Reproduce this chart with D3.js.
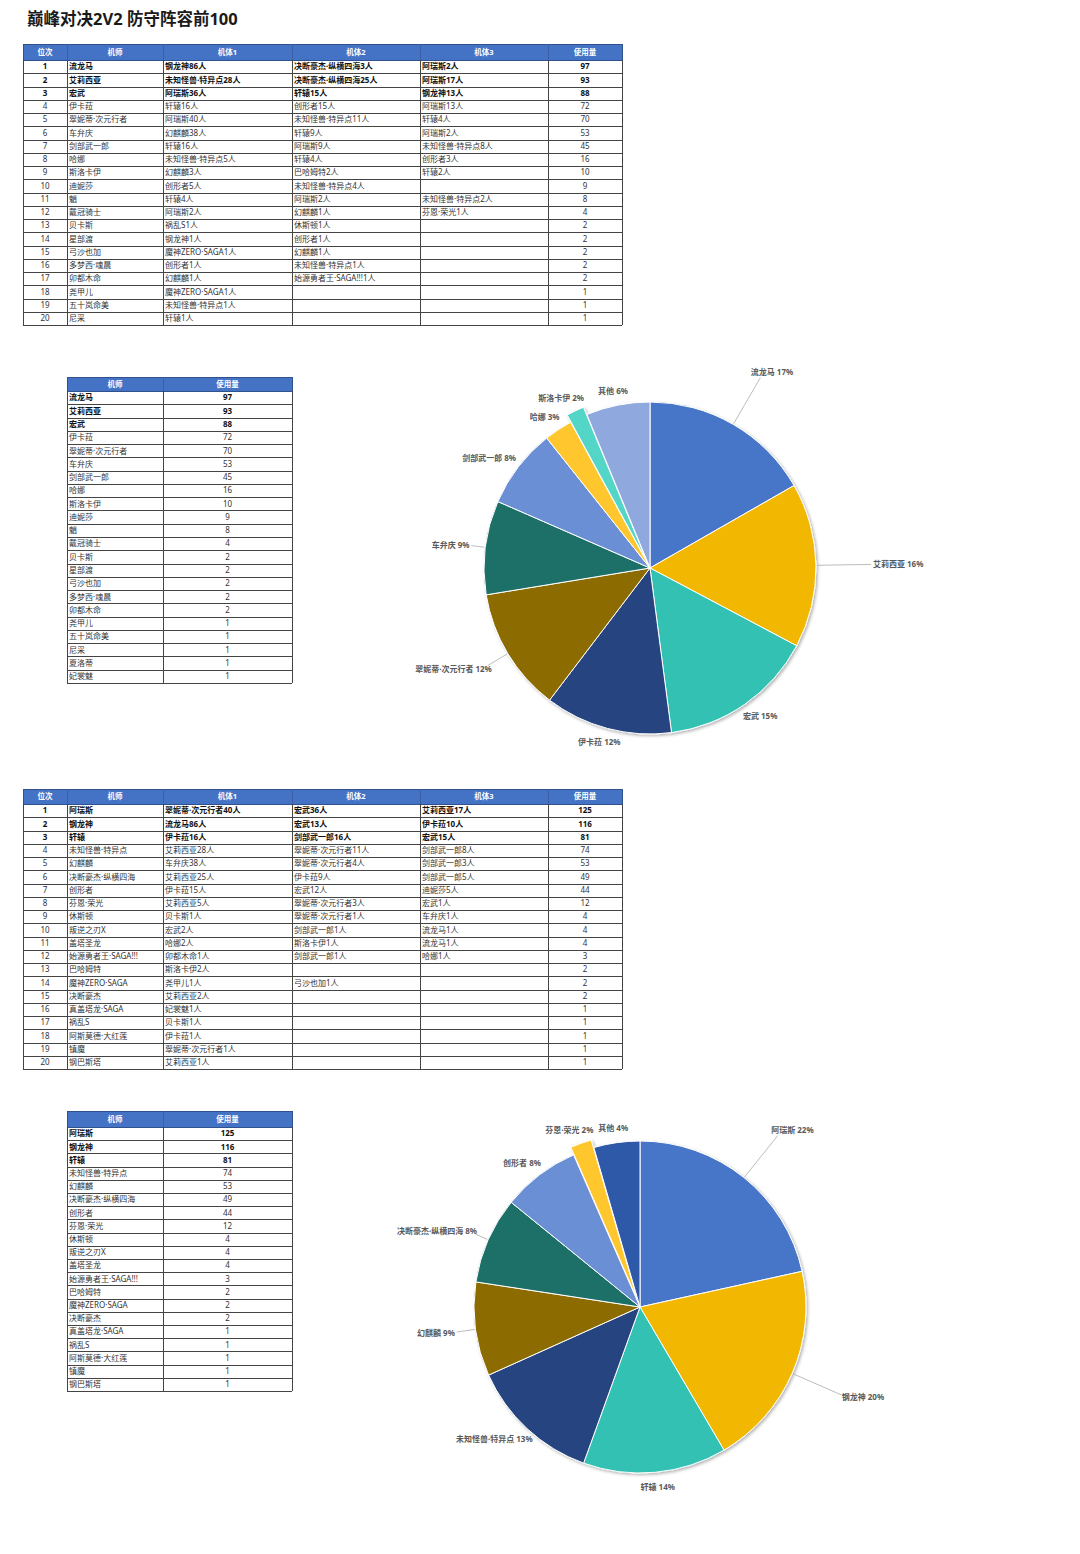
<!DOCTYPE html>
<html>
<head>
<meta charset="utf-8">
<script src="https://cdn.jsdelivr.net/npm/d3@7"></script>
<style>
  body { margin: 0; background: #fff; }
  svg text { font-family: "Noto Sans", "Noto Sans CJK SC", "Microsoft YaHei", sans-serif; }
</style>
</head>
<body>
<svg id="chart" width="1080" height="1554"></svg>
<script>
// ---------- data ----------
const titleText = "巅峰对决2V2 防守阵容前100";
const rankHeader = ["位次", "机师", "机体1", "机体2", "机体3", "使用量"];
const totalHeader = ["机师", "使用量"];

// pilot -> top 3 mechs
const pilotRows = [
  ["流龙马", "钢龙神86人", "决断豪杰·纵横四海3人", "阿瑞斯2人", 97],
  ["艾莉西亚", "未知怪兽·特异点28人", "决断豪杰·纵横四海25人", "阿瑞斯17人", 93],
  ["宏武", "阿瑞斯36人", "轩辕15人", "钢龙神13人", 88],
  ["伊卡菈", "轩辕16人", "创形者15人", "阿瑞斯13人", 72],
  ["翠妮蒂·次元行者", "阿瑞斯40人", "未知怪兽·特异点11人", "轩辕4人", 70],
  ["车弁庆", "幻麒麟38人", "轩辕9人", "阿瑞斯2人", 53],
  ["剑部武一郎", "轩辕16人", "阿瑞斯9人", "未知怪兽·特异点8人", 45],
  ["哈娜", "未知怪兽·特异点5人", "轩辕4人", "创形者3人", 16],
  ["斯洛卡伊", "幻麒麟3人", "巴哈姆特2人", "轩辕2人", 10],
  ["迪妮莎", "创形者5人", "未知怪兽·特异点4人", "", 9],
  ["魈", "轩辕4人", "阿瑞斯2人", "未知怪兽·特异点2人", 8],
  ["戴冠骑士", "阿瑞斯2人", "幻麒麟1人", "芬恩·荣光1人", 4],
  ["贝卡斯", "祸乱S1人", "休斯顿1人", "", 2],
  ["星部渡", "钢龙神1人", "创形者1人", "", 2],
  ["弓沙也加", "魔神ZERO·SAGA1人", "幻麒麟1人", "", 2],
  ["多梦西·魂晨", "创形者1人", "未知怪兽·特异点1人", "", 2],
  ["卯都木命", "幻麒麟1人", "始源勇者王·SAGA!!!1人", "", 2],
  ["尧甲儿", "魔神ZERO·SAGA1人", "", "", 1],
  ["五十岚命美", "未知怪兽·特异点1人", "", "", 1],
  ["尼采", "轩辕1人", "", "", 1]
];

const pilotNames = ["流龙马", "艾莉西亚", "宏武", "伊卡菈", "翠妮蒂·次元行者", "车弁庆", "剑部武一郎",
  "哈娜", "斯洛卡伊", "迪妮莎", "魈", "戴冠骑士", "贝卡斯", "星部渡", "弓沙也加", "多梦西·魂晨",
  "卯都木命", "尧甲儿", "五十岚命美", "尼采", "夏洛蒂", "妃裳魅"];
const pilotUses = [97, 93, 88, 72, 70, 53, 45, 16, 10, 9, 8, 4, 2, 2, 2, 2, 2, 1, 1, 1, 1, 1];
const pilotPieTop = 9; // slices before "其他"

// mech -> top 3 pilots
const mechRows = [
  ["阿瑞斯", "翠妮蒂·次元行者40人", "宏武36人", "艾莉西亚17人", 125],
  ["钢龙神", "流龙马86人", "宏武13人", "伊卡菈10人", 116],
  ["轩辕", "伊卡菈16人", "剑部武一郎16人", "宏武15人", 81],
  ["未知怪兽·特异点", "艾莉西亚28人", "翠妮蒂·次元行者11人", "剑部武一郎8人", 74],
  ["幻麒麟", "车弁庆38人", "翠妮蒂·次元行者4人", "剑部武一郎3人", 53],
  ["决断豪杰·纵横四海", "艾莉西亚25人", "伊卡菈9人", "剑部武一郎5人", 49],
  ["创形者", "伊卡菈15人", "宏武12人", "迪妮莎5人", 44],
  ["芬恩·荣光", "艾莉西亚5人", "翠妮蒂·次元行者3人", "宏武1人", 12],
  ["休斯顿", "贝卡斯1人", "翠妮蒂·次元行者1人", "车弁庆1人", 4],
  ["叛逆之刃X", "宏武2人", "剑部武一郎1人", "流龙马1人", 4],
  ["盖塔圣龙", "哈娜2人", "斯洛卡伊1人", "流龙马1人", 4],
  ["始源勇者王·SAGA!!!", "卯都木命1人", "剑部武一郎1人", "哈娜1人", 3],
  ["巴哈姆特", "斯洛卡伊2人", "", "", 2],
  ["魔神ZERO·SAGA", "尧甲儿1人", "弓沙也加1人", "", 2],
  ["决断豪杰", "艾莉西亚2人", "", "", 2],
  ["真盖塔龙·SAGA", "妃裳魅1人", "", "", 1],
  ["祸乱S", "贝卡斯1人", "", "", 1],
  ["阿斯莫德·大红莲", "伊卡菈1人", "", "", 1],
  ["镇魔", "翠妮蒂·次元行者1人", "", "", 1],
  ["钢巴斯塔", "艾莉西亚1人", "", "", 1]
];

const mechNames = ["阿瑞斯", "钢龙神", "轩辕", "未知怪兽·特异点", "幻麒麟", "决断豪杰·纵横四海", "创形者",
  "芬恩·荣光", "休斯顿", "叛逆之刃X", "盖塔圣龙", "始源勇者王·SAGA!!!", "巴哈姆特", "魔神ZERO·SAGA",
  "决断豪杰", "真盖塔龙·SAGA", "祸乱S", "阿斯莫德·大红莲", "镇魔", "钢巴斯塔"];
const mechUses = [125, 116, 81, 74, 53, 49, 44, 12, 4, 4, 4, 3, 2, 2, 2, 1, 1, 1, 1, 1];
const mechPieTop = 8;
const otherLabel = "其他";

// ---------- styles ----------
const pilotColors = ["#4674c8", "#f2b705", "#30c1b3", "#264480", "#8c6c00", "#1e6f68", "#6b8fd4", "#ffc62e", "#52d5c7", "#8fa9de"];
const mechColors = ["#4674c8", "#f2b705", "#30c1b3", "#264480", "#8c6c00", "#1e6f68", "#6b8fd4", "#ffc62e", "#2f58a8"];
const headFill = "#4472c4";
const gridColor = "#444";

const svg = d3.select("#chart");

svg.append("text")
  .attr("x", 27).attr("y", 25)
  .style("font-size", "16.5px").style("font-weight", "bold").style("fill", "#1a1a1a")
  .text(titleText);

const defs = svg.append("defs");
defs.append("filter").attr("id", "pieShadow")
  .attr("x", "-10%").attr("y", "-10%").attr("width", "120%").attr("height", "120%")
  .append("feDropShadow")
  .attr("dx", 1.5).attr("dy", 1.5).attr("stdDeviation", 1.5)
  .attr("flood-color", "#000").attr("flood-opacity", 0.3);

// ---------- table ----------
function drawTable(edges, top, headH, bottom, header, rows, aligns) {
  const g = svg.append("g");
  const y = d3.scaleBand().domain(d3.range(rows.length)).range([top + headH, bottom]);
  const left = edges[0], right = edges[edges.length - 1];

  g.append("rect")
    .attr("x", left).attr("y", top)
    .attr("width", right - left).attr("height", headH)
    .attr("fill", headFill);

  header.forEach((h, i) => {
    g.append("text")
      .attr("x", (edges[i] + edges[i + 1]) / 2)
      .attr("y", top + headH / 2)
      .attr("dy", "0.35em")
      .attr("text-anchor", "middle")
      .style("font-size", "7.5px").style("font-weight", "bold").style("fill", "#fff")
      .text(h);
  });

  // grid
  const lines = g.append("g").attr("shape-rendering", "crispEdges");
  rows.forEach((r, i) => {
    lines.append("line")
      .attr("x1", left).attr("x2", right)
      .attr("y1", Math.round(y(i)) + 0.5).attr("y2", Math.round(y(i)) + 0.5)
      .attr("stroke", i === 0 ? "#2f528f" : gridColor).attr("stroke-width", 1);
  });
  lines.append("line")
    .attr("x1", left).attr("x2", right)
    .attr("y1", Math.round(bottom) + 0.5).attr("y2", Math.round(bottom) + 0.5)
    .attr("stroke", gridColor);
  lines.append("line")
    .attr("x1", left).attr("x2", right)
    .attr("y1", top + 0.5).attr("y2", top + 0.5)
    .attr("stroke", "#2f528f");
  edges.forEach((e, i) => {
    lines.append("line")
      .attr("x1", e + 0.5).attr("x2", e + 0.5)
      .attr("y1", top + headH).attr("y2", bottom)
      .attr("stroke", gridColor);
    lines.append("line")
      .attr("x1", e + 0.5).attr("x2", e + 0.5)
      .attr("y1", top).attr("y2", top + headH)
      .attr("stroke", i === 0 || i === edges.length - 1 ? "#2f528f" : "#3a5fa8");
  });

  rows.forEach((r, i) => {
    r.forEach((v, j) => {
      if (v === "") return;
      const centre = aligns[j] === "c";
      g.append("text")
        .attr("x", centre ? (edges[j] + edges[j + 1]) / 2 : edges[j] + 2)
        .attr("y", y(i) + y.bandwidth() / 2)
        .attr("dy", "0.35em")
        .attr("text-anchor", centre ? "middle" : "start")
        .style("font-size", "8px")
        .style("font-weight", i < 3 ? "bold" : "normal")
        .style("fill", i < 3 ? "#111" : "#333")
        .text(v);
    });
  });
}

// ---------- pie ----------
function drawPie(cx, cy, names, values, topN, colors, labelR) {
  const R = 166, explode = 8, baseLabel = 176;
  const items = names.slice(0, topN).map((n, i) => ({ n, v: values[i] }));
  items.push({ n: otherLabel, v: d3.sum(values.slice(topN)) });
  const total = d3.sum(items, d => d.v);
  // the small yellow slice is pulled out
  const pulled = topN - 1;

  const arcs = d3.pie().sort(null).value(d => d.v)(items);
  const arc = d3.arc().innerRadius(0).outerRadius(R);
  const g = svg.append("g").attr("transform", `translate(${cx},${cy})`);
  const slices = g.append("g").attr("filter", "url(#pieShadow)");

  arcs.forEach((a, i) => {
    const mid = (a.startAngle + a.endAngle) / 2;
    const off = i === pulled ? explode : 0;
    slices.append("path")
      .attr("d", arc(a))
      .attr("transform", `translate(${off * Math.sin(mid)},${-off * Math.cos(mid)})`)
      .attr("fill", colors[i])
      .attr("stroke", "#fff").attr("stroke-width", 1);
  });

  arcs.forEach((a, i) => {
    const mid = (a.startAngle + a.endAngle) / 2;
    const s = Math.sin(mid), c = -Math.cos(mid);
    const off = i === pulled ? explode : 0;
    const rl = (labelR[a.data.n] || baseLabel) + off;
    const px = rl * s, py = rl * c;
    const t = g.append("text")
      .attr("text-anchor", "middle").attr("dy", "0.35em")
      .style("font-size", "8px").style("font-weight", "bold").style("fill", "#595959")
      .text(`${a.data.n} ${Math.round(a.data.v / total * 100)}%`);
    const w = t.node().getComputedTextLength(), h = 9;
    t.attr("x", px + s * w / 2).attr("y", py + c * h / 2);
    if (rl - off > baseLabel + 3) {
      const r0 = R + off + 1;
      g.append("line")
        .attr("x1", r0 * s).attr("y1", r0 * c)
        .attr("x2", px - s * 2).attr("y2", py - c * 2)
        .attr("stroke", "#a6a6a6").attr("stroke-width", 0.75);
    }
  });
}

// ---------- layout ----------
const rankCols = [23, 67, 163, 292, 420, 548, 622];
const totalCols = [67, 163, 292];
const rankAlign = ["c", "l", "l", "l", "l", "c"];
const totalAlign = ["l", "c"];

drawTable(rankCols, 44, 16, 325, rankHeader, pilotRows.map((r, i) => [i + 1, ...r]), rankAlign);
drawTable(totalCols, 377, 14, 683, totalHeader, pilotNames.map((n, i) => [n, pilotUses[i]]), totalAlign);
drawPie(650, 568, pilotNames, pilotUses, pilotPieTop, pilotColors,
  { "流龙马": 222, "艾莉西亚": 223, "翠妮蒂·次元行者": 191, "车弁庆": 182 });

drawTable(rankCols, 789, 15, 1069, rankHeader, mechRows.map((r, i) => [i + 1, ...r]), rankAlign);
drawTable(totalCols, 1111, 16, 1391, totalHeader, mechNames.map((n, i) => [n, mechUses[i]]), totalAlign);
drawPie(640, 1307, mechNames, mechUses, mechPieTop, mechColors,
  { "阿瑞斯": 222, "钢龙神": 222, "幻麒麟": 187, "决断豪杰·纵横四海": 182 });
</script>
</body>
</html>
